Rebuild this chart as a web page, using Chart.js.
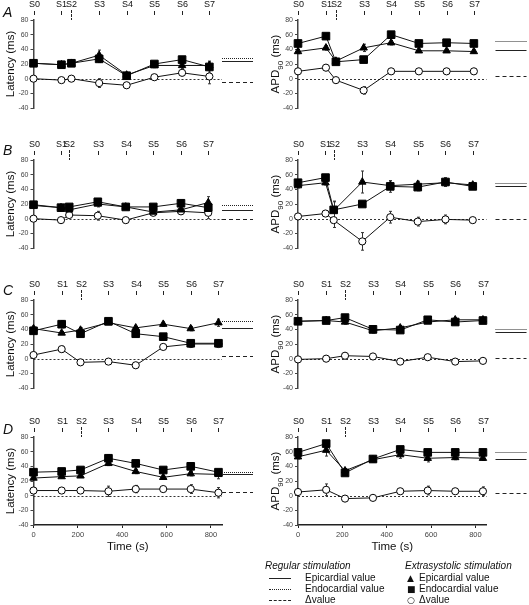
<!DOCTYPE html>
<html>
<head>
<meta charset="utf-8">
<script src="https://cdn.jsdelivr.net/npm/chart.js@4.4.0/dist/chart.umd.min.js"></script>
<style>
  body { margin: 0; background: #fff; font-family: "Liberation Sans", Arial, sans-serif; color: #111; }
  #fig { position: relative; width: 529px; height: 605px; overflow: hidden; }
  canvas { position: absolute; }
  .letter { position: absolute; font-size: 14px; font-style: italic; line-height: 14px; }
  .ytitle { position: absolute; font-size: 11.5px; white-space: nowrap; transform: translate(-50%, -50%) rotate(-90deg); }
  .ytitle sub { font-size: 8px; }
  .leg { position: absolute; font-size: 10px; line-height: 12px; white-space: nowrap; }
  .legline { position: absolute; width: 22px; height: 0; }
</style>
</head>
<body>
<div id="fig">
  <canvas id="cA1" width="265" height="140" style="left:0;top:0"></canvas>
  <canvas id="cA2" width="264" height="140" style="left:265px;top:0"></canvas>
  <canvas id="cB1" width="265" height="140" style="left:0;top:140px"></canvas>
  <canvas id="cB2" width="264" height="140" style="left:265px;top:140px"></canvas>
  <canvas id="cC1" width="265" height="140" style="left:0;top:280px"></canvas>
  <canvas id="cC2" width="264" height="140" style="left:265px;top:280px"></canvas>
  <canvas id="cD1" width="265" height="140" style="left:0;top:417px"></canvas>
  <canvas id="cD2" width="264" height="140" style="left:265px;top:417px"></canvas>

  <div class="letter" style="left:3px;top:5px">A</div>
  <div class="letter" style="left:3px;top:143px">B</div>
  <div class="letter" style="left:3px;top:283px">C</div>
  <div class="letter" style="left:3px;top:422px">D</div>

  <div class="ytitle" style="left:277px;top:64px">APD<sub>90</sub> (ms)</div>
  <div class="ytitle" style="left:277px;top:204px">APD<sub>90</sub> (ms)</div>
  <div class="ytitle" style="left:277px;top:344px">APD<sub>90</sub> (ms)</div>
  <div class="ytitle" style="left:277px;top:481px">APD<sub>90</sub> (ms)</div>

  <div class="leg" style="left:265px;top:560px;font-style:italic">Regular stimulation</div>
  <div class="legline" style="left:269px;top:578px;border-top:1px solid #222"></div>
  <div class="leg" style="left:305px;top:572px">Epicardial value</div>
  <div class="legline" style="left:269px;top:589px;border-top:1px dotted #222"></div>
  <div class="leg" style="left:305px;top:583px">Endocardial value</div>
  <div class="legline" style="left:269px;top:600px;border-top:1px dashed #222"></div>
  <div class="leg" style="left:305px;top:594px">&Delta;value</div>

  <div class="leg" style="left:405px;top:560px;font-style:italic">Extrasystolic stimulation</div>
  <div class="leg" style="left:407px;top:572px;font-family:'DejaVu Sans';font-size:9px">&#9650;</div>
  <div class="leg" style="left:419px;top:572px">Epicardial value</div>
  <div class="leg" style="left:407px;top:583px;font-family:'DejaVu Sans';font-size:9px">&#9632;</div>
  <div class="leg" style="left:419px;top:583px">Endocardial value</div>
  <div class="leg" style="left:407px;top:594px;font-family:'DejaVu Sans';font-size:9px">&#9675;</div>
  <div class="leg" style="left:419px;top:594px">&Delta;value</div>
</div>

<script>
// stimulation labels and their times (s) per row
const stimLabels = ['S0', 'S1', 'S2', 'S3', 'S4', 'S5', 'S6', 'S7'];
const timeA = [0, 126, 171, 296, 420, 545, 670, 793];
const timeB = [0, 124, 161, 290, 416, 540, 665, 788];
const timeC = [0, 127, 212, 338, 461, 585, 709, 834];
const timeD = [0, 127, 212, 338, 461, 585, 709, 834];

// extrasystolic values: triangle = epicardial, square = endocardial, circle = delta
// Latency (ms)
const latA_tri = [21, 19, 21, 32, 5, 18, 18, 18];
const latA_sq = [21, 19, 21, 27, 4, 20, 26, 16];
const latA_circ = [0, -2, 0, -6, -9, 2, 8, 3];
const latB_tri = [18, 15, 12, 20, 16, 9, 12, 22];
const latB_sq = [19, 15, 16, 23, 16, 16, 21, 15];
const latB_circ = [0, -2, 5, 4, -2, 8, 10, 8];
const latC_tri = [41, 35, 39, 49, 42, 47, 41, 49];
const latC_sq = [38, 47, 34, 51, 34, 30, 21, 21];
const latC_circ = [5, 13, -5, -4, -9, 16, 20, 20];
const latD_tri = [24, 26, 27, 44, 33, 25, 30, 29];
const latD_sq = [32, 33, 35, 51, 44, 35, 40, 32];
const latD_circ = [7, 7, 7, 6, 9, 9, 9, 4];
// APD90 (ms)
const apdA_tri = [37, 42, 24, 42, 49, 38, 38, 37];
const apdA_sq = [48, 58, 23, 26, 60, 48, 49, 48];
const apdA_circ = [10, 15, -2, -16, 10, 10, 10, 10];
const apdB_tri = [45, 49, 11, 50, 45, 47, 49, 46];
const apdB_sq = [49, 56, 12, 20, 44, 43, 50, 44];
const apdB_circ = [3, 7, -2, -31, 2, -4, -1, -2];
const apdC_tri = [51, 52, 50, 38, 42, 50, 53, 53];
const apdC_sq = [51, 52, 56, 40, 39, 53, 50, 52];
const apdC_circ = [-1, 0, 4, 3, -4, 2, -4, -3];
const apdD_tri = [53, 62, 34, 49, 56, 51, 52, 51];
const apdD_sq = [59, 71, 31, 50, 63, 59, 59, 59];
const apdD_circ = [5, 8, -4, -3, 6, 7, 6, 6];

// error bars (triangle, square, circle)
const latA_err = [[0, 0, 0, 7, 0, 3, 4, 6], [0, 0, 0, 5, 0, 2, 3, 7], [0, 0, 0, 6, 0, 2, 4, 10]];
const latB_err = [[0, 0, 4, 4, 0, 3, 4, 8], [2, 0, 3, 3, 2, 3, 3, 4], [0, 0, 2, 6, 0, 3, 4, 8]];
const latC_err = [[2, 2, 3, 2, 2, 3, 3, 5], [2, 5, 2, 2, 2, 2, 2, 2], [2, 4, 2, 2, 2, 3, 4, 3]];
const latD_err = [[2, 2, 2, 3, 3, 2, 3, 6], [3, 3, 3, 5, 4, 3, 5, 3], [2, 2, 2, 7, 5, 2, 6, 7]];
const apdA_err = [[3, 3, 2, 5, 3, 2, 2, 2], [2, 2, 2, 3, 2, 2, 2, 2], [3, 4, 3, 5, 3, 3, 3, 3]];
const apdB_err = [[3, 3, 12, 15, 5, 4, 5, 2], [3, 2, 12, 3, 8, 5, 6, 2], [2, 3, 10, 12, 8, 6, 6, 2]];
const apdC_err = [[2, 2, 3, 3, 3, 2, 2, 3], [2, 2, 2, 2, 2, 2, 2, 2], [2, 2, 3, 2, 2, 2, 2, 2]];
const apdD_err = [[3, 8, 3, 3, 5, 5, 3, 3], [2, 2, 2, 2, 2, 2, 2, 2], [2, 8, 2, 2, 3, 6, 3, 6]];

// regular stimulation values: [epicardial, endocardial, delta]
const latA_ref = [24, 28, -5];
const latB_ref = [12, 19, 0];
const latC_ref = [42, 52, 4];
const latD_ref = [29, 32, 5];
const apdA_ref = [39, 51, 3];
const apdB_ref = [45, 48, 0];
const apdC_ref = [36, 40, 1];
const apdD_ref = [50, 59, 4];

const FONT = '"Liberation Sans", Arial, sans-serif';

// dashed zero line + error bars, under the markers
const extras = {
    id: 'extras',
    beforeDatasetsDraw(chart) {
        const { ctx, chartArea: a, scales: { y } } = chart;
        ctx.save();
        const y0 = Math.round(y.getPixelForValue(0)) + 0.5;
        ctx.strokeStyle = '#333';
        ctx.lineWidth = 1;
        ctx.setLineDash([2, 2]);
        ctx.beginPath();
        ctx.moveTo(a.left, y0);
        ctx.lineTo(a.right, y0);
        ctx.stroke();
        ctx.setLineDash([]);
        chart.data.datasets.forEach((ds, di) => {
            const meta = chart.getDatasetMeta(di);
            ds.errors.forEach((e, i) => {
                if (!e) return;
                const px = Math.round(meta.data[i].x) + 0.5;
                const v = ds.data[i].y;
                const t = y.getPixelForValue(v + e), b = y.getPixelForValue(v - e);
                ctx.beginPath();
                ctx.moveTo(px, t); ctx.lineTo(px, b);
                ctx.moveTo(px - 1.5, t); ctx.lineTo(px + 1.5, t);
                ctx.moveTo(px - 1.5, b); ctx.lineTo(px + 1.5, b);
                ctx.stroke();
            });
        });
        ctx.restore();
    }
};

// S0..S7 marks above each panel
const stimMarks = {
    id: 'stimMarks',
    afterDraw(chart, args, o) {
        const { ctx, chartArea: a, scales: { x } } = chart;
        ctx.save();
        ctx.fillStyle = '#111';
        ctx.strokeStyle = '#222';
        ctx.lineWidth = 1;
        ctx.font = '9px ' + FONT;
        ctx.textAlign = 'center';
        ctx.textBaseline = 'middle';
        o.times.forEach((t, i) => {
            const px = Math.round(x.getPixelForValue(t)) + 0.5;
            ctx.fillText(stimLabels[i], px, a.top - 15);
            ctx.beginPath();
            if (i === 2) {
                ctx.setLineDash([3, 1]);
                ctx.moveTo(px, a.top - 10); ctx.lineTo(px, a.top);
            } else {
                ctx.setLineDash([]);
                ctx.moveTo(px, a.top - 9); ctx.lineTo(px, a.top - 5);
            }
            ctx.stroke();
        });
        ctx.restore();
    }
};

// regular stimulation reference lines to the right of each panel
const refLines = {
    id: 'refLines',
    afterDraw(chart, args, o) {
        const { ctx, chartArea: a, scales: { y } } = chart;
        const x1 = a.right + o.gap, x2 = x1 + 31;
        const styles = [[], [1, 1], [4, 3]];
        ctx.save();
        ctx.strokeStyle = '#222';
        ctx.lineWidth = 1;
        o.values.forEach((v, i) => {
            const py = Math.round(y.getPixelForValue(v)) + 0.5;
            ctx.setLineDash(styles[i]);
            ctx.beginPath();
            ctx.moveTo(x1, py); ctx.lineTo(x2, py);
            ctx.stroke();
        });
        ctx.restore();
    }
};

function series(times, vals, errs, style, radius, fill) {
    return {
        data: times.map((t, i) => ({ x: t, y: vals[i] })),
        errors: errs,
        borderColor: '#111',
        borderWidth: 1,
        pointStyle: style,
        pointRadius: radius,
        pointBackgroundColor: fill,
        pointBorderColor: '#000',
        pointBorderWidth: 1,
        tension: 0,
        clip: false
    };
}

function makeChart(id, col, times, tri, sq, circ, errs, refs, bottom) {
    const left = col === 0;
    const axisW = left ? 33.5 : 33;
    const padRight = left ? 43 : 42.5;
    new Chart(document.getElementById(id), {
        type: 'line',
        data: {
            datasets: [
                series(times, sq, errs[1], 'rect', 5.4, '#000'),
                series(times, tri, errs[0], 'triangle', 4.3, '#000'),
                series(times, circ, errs[2], 'circle', 3.6, '#fff')
            ]
        },
        options: {
            responsive: false,
            animation: false,
            devicePixelRatio: 1,
            events: [],
            layout: { padding: { left: 0, right: padRight, top: 20, bottom: bottom ? 0 : 32 } },
            scales: {
                x: {
                    type: 'linear',
                    min: 0,
                    max: 850,
                    display: bottom,
                    ticks: { stepSize: 200, includeBounds: false, autoSkip: false, maxRotation: 0, padding: 2, color: '#444', font: { size: 7.5, family: FONT } },
                    grid: { drawOnChartArea: false, tickLength: 3, color: '#222' },
                    border: { color: '#222', width: 1.5 },
                    title: { display: true, text: 'Time (s)', color: '#111', font: { size: 11.5, family: FONT }, padding: { top: 0, bottom: 3 } },
                    afterFit: s => { s.height = bottom ? 32 : 0; }
                },
                y: {
                    min: -40,
                    max: 80,
                    ticks: { stepSize: 20, autoSkip: false, padding: 2, color: '#444', font: { size: 7, family: FONT } },
                    grid: { drawOnChartArea: false, tickLength: 3, color: '#444' },
                    border: { color: '#444', width: 1.5 },
                    title: { display: left, text: 'Latency (ms)', color: '#111', font: { size: 11.5, family: FONT }, padding: { top: 3.5, bottom: 0 } },
                    afterFit: s => { s.width = axisW; }
                }
            },
            plugins: {
                legend: { display: false },
                tooltip: { enabled: false },
                stimMarks: { times: times },
                refLines: { values: refs, gap: left ? 0 : 9 }
            }
        },
        plugins: [extras, stimMarks, refLines]
    });
}

makeChart('cA1', 0, timeA, latA_tri, latA_sq, latA_circ, latA_err, latA_ref, false);
makeChart('cA2', 1, timeA, apdA_tri, apdA_sq, apdA_circ, apdA_err, apdA_ref, false);
makeChart('cB1', 0, timeB, latB_tri, latB_sq, latB_circ, latB_err, latB_ref, false);
makeChart('cB2', 1, timeB, apdB_tri, apdB_sq, apdB_circ, apdB_err, apdB_ref, false);
makeChart('cC1', 0, timeC, latC_tri, latC_sq, latC_circ, latC_err, latC_ref, false);
makeChart('cC2', 1, timeC, apdC_tri, apdC_sq, apdC_circ, apdC_err, apdC_ref, false);
makeChart('cD1', 0, timeD, latD_tri, latD_sq, latD_circ, latD_err, latD_ref, true);
makeChart('cD2', 1, timeD, apdD_tri, apdD_sq, apdD_circ, apdD_err, apdD_ref, true);
</script>
</body>
</html>
